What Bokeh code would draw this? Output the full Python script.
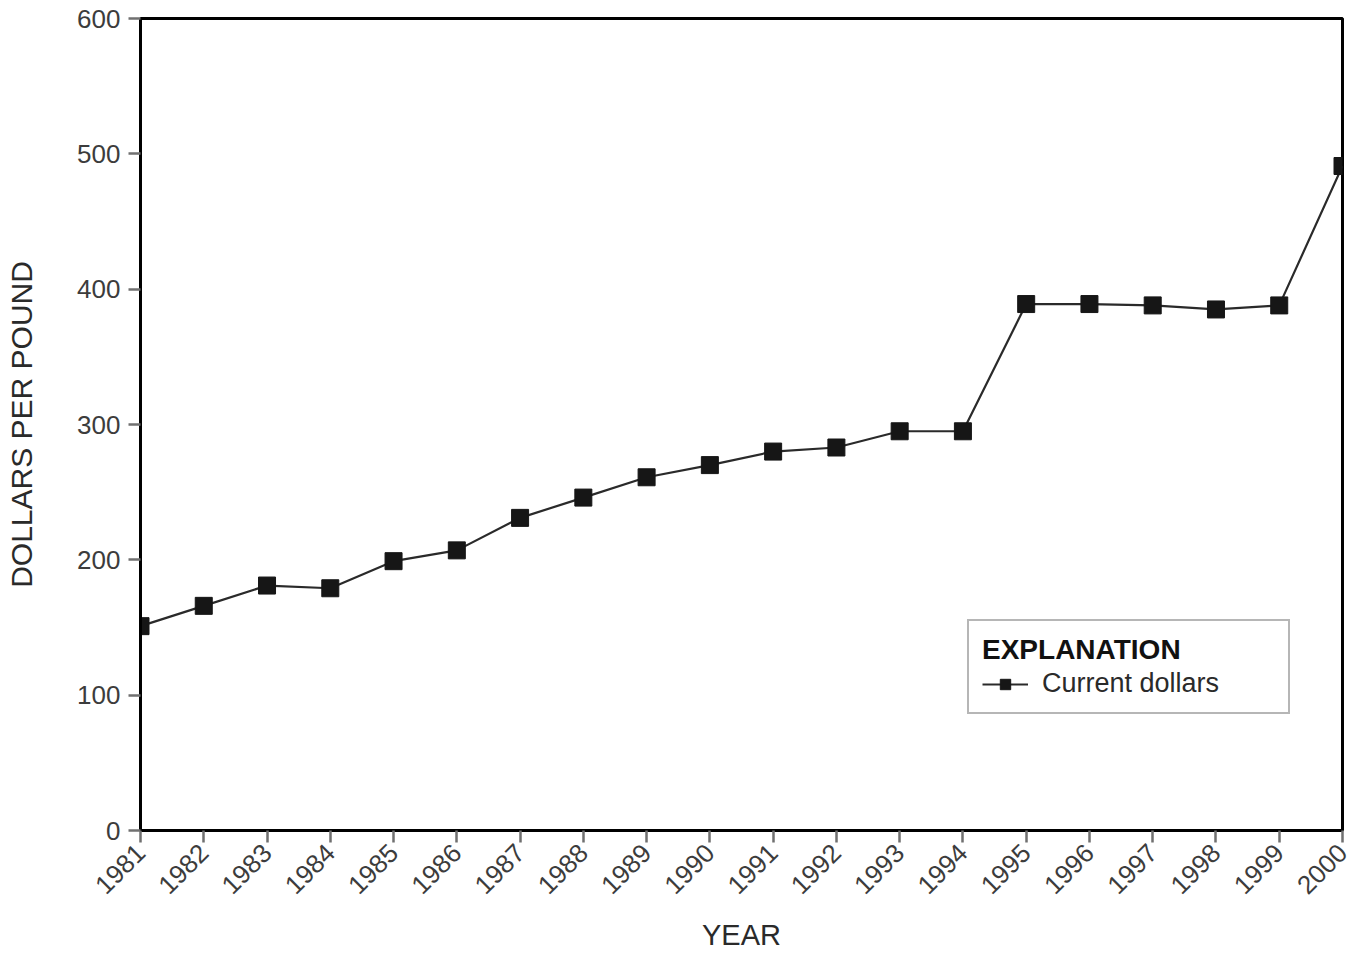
import math
from bokeh.plotting import figure
from bokeh.models import FixedTicker, Legend, LegendItem, Range1d
from bokeh.embed import file_html
from bokeh.resources import INLINE

years = [1981, 1982, 1983, 1984, 1985, 1986, 1987, 1988, 1989, 1990,
         1991, 1992, 1993, 1994, 1995, 1996, 1997, 1998, 1999, 2000]
prices = [151, 166, 181, 179, 199, 207, 231, 246, 261, 270,
          280, 283, 295, 295, 389, 389, 388, 385, 388, 491]
y_ticks = [0, 100, 200, 300, 400, 500, 600]
series_name = "Current dollars"
legend_title = "EXPLANATION"
x_title = "YEAR"
y_title = "DOLLARS PER POUND"

FONT = "Liberation Sans"
TICK_COLOR = "#3c3c3c"

p = figure(width=1354, height=958,
           x_range=Range1d(years[0], years[-1]),
           y_range=Range1d(y_ticks[0], y_ticks[-1]),
           output_backend="svg", toolbar_location=None,
           min_border_left=140, min_border_right=12,
           min_border_top=18, min_border_bottom=128)

p.xgrid.visible = False
p.ygrid.visible = False
p.outline_line_color = "black"
p.outline_line_width = 3
p.background_fill_color = "white"
p.border_fill_color = "white"

r_line = p.line(years, prices, line_color="#2a2a2a", line_width=2.2)
r_pts = p.scatter(years, prices, marker="square", size=17,
                  fill_color="#161616", line_color="#161616")

for ax in (p.xaxis[0], p.yaxis[0]):
    ax.axis_line_color = "black"
    ax.axis_line_width = 3
    ax.major_tick_line_color = "#707070"
    ax.major_tick_line_width = 2.5
    ax.major_tick_out = 12
    ax.major_tick_in = 0
    ax.minor_tick_line_color = None
    ax.major_label_text_font = FONT
    ax.major_label_text_font_size = "26px"
    ax.major_label_text_color = TICK_COLOR
    ax.axis_label_text_font = FONT
    ax.axis_label_text_font_style = "normal"
    ax.axis_label_text_color = "#2a2a2a"

p.xaxis[0].ticker = FixedTicker(ticks=years)
p.xaxis[0].major_label_overrides = {y: str(y) for y in years}
p.xaxis[0].major_label_orientation = math.pi / 4
p.xaxis[0].major_label_standoff = 6
p.xaxis[0].axis_label = x_title
p.xaxis[0].axis_label_text_font_size = "29px"
p.xaxis[0].axis_label_standoff = 14

p.yaxis[0].ticker = FixedTicker(ticks=y_ticks)
p.yaxis[0].major_label_standoff = 8
p.yaxis[0].axis_label = y_title
p.yaxis[0].axis_label_text_font_size = "30px"
p.yaxis[0].axis_label_standoff = 36

legend = Legend(items=[LegendItem(label=series_name, renderers=[r_line, r_pts])],
                location=(827, 116),
                title=legend_title,
                title_text_font=FONT, title_text_font_size="28px",
                title_text_font_style="bold", title_text_color="#111111",
                title_standoff=2,
                label_text_font=FONT, label_text_font_size="27px",
                label_text_color="#2a2a2a",
                glyph_width=46, glyph_height=26, label_standoff=14,
                label_width=233,
                padding=13, spacing=0, margin=0,
                border_line_color="#6e6e6e", border_line_width=2.5,
                background_fill_color="white", background_fill_alpha=1)
p.add_layout(legend, "center")

open("out.html", "w").write(file_html(p, INLINE))
